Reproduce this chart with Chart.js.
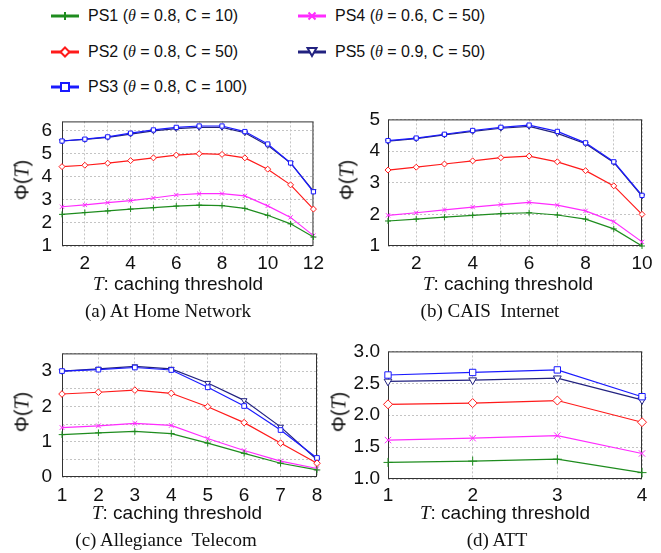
<!DOCTYPE html>
<html>
<head>
<meta charset="utf-8">
<script src="https://cdn.jsdelivr.net/npm/chart.js@4.4.1/dist/chart.umd.min.js"></script>
<style>
  body { margin: 0; background: #fff; }
  #wrap { position: relative; width: 661px; height: 553px; overflow: hidden;
          font-family: "Liberation Sans", Arial, sans-serif; color: #111; }
  canvas { position: absolute; }
  .txt { position: absolute; white-space: nowrap; transform: translate(-50%, -50%); }
  .xt { font-size: 19px; }
  .yt { font-size: 20px; transform: translate(-50%, -50%) rotate(-90deg); }
  .cap { font-family: "Liberation Serif", "Times New Roman", serif; font-size: 19px; }
  i { font-family: "Liberation Serif", "Times New Roman", serif; }
  .leg { position: absolute; font-size: 16px; display: flex; align-items: center;
         white-space: nowrap; transform: translateY(-50%); }
  .leg svg { margin-right: 9px; }
</style>
</head>
<body>
<div id="wrap"></div>
<script>
// series (same five in every panel)
const seriesNames = [
  'PS1 (θ = 0.8, C = 10)',
  'PS2 (θ = 0.8, C = 50)',
  'PS3 (θ = 0.8, C = 100)',
  'PS4 (θ = 0.6, C = 50)',
  'PS5 (θ = 0.9, C = 50)',
];

// (a) At Home Network
const homeT = [1, 2, 3, 4, 5, 6, 7, 8, 9, 10, 11, 12];
const homePS1 = [2.37, 2.45, 2.52, 2.60, 2.66, 2.73, 2.77, 2.75, 2.63, 2.33, 1.96, 1.39];
const homePS2 = [4.44, 4.50, 4.59, 4.70, 4.82, 4.94, 5.00, 4.97, 4.82, 4.33, 3.65, 2.60];
const homePS3 = [5.55, 5.63, 5.73, 5.89, 6.03, 6.14, 6.20, 6.20, 5.96, 5.42, 4.60, 3.35];
const homePS4 = [2.70, 2.78, 2.88, 2.97, 3.08, 3.21, 3.27, 3.27, 3.17, 2.74, 2.24, 1.45];
const homePS5 = [5.55, 5.62, 5.71, 5.85, 5.99, 6.09, 6.14, 6.14, 5.91, 5.36, 4.60, 3.38];

// (b) CAIS Internet
const caisT = [1, 2, 3, 4, 5, 6, 7, 8, 9, 10];
const caisPS1 = [1.79, 1.85, 1.91, 1.97, 2.02, 2.05, 1.98, 1.85, 1.54, 1.00];
const caisPS2 = [3.40, 3.49, 3.59, 3.69, 3.79, 3.84, 3.66, 3.38, 2.90, 2.00];
const caisPS3 = [4.33, 4.41, 4.53, 4.65, 4.75, 4.82, 4.62, 4.26, 3.66, 2.60];
const caisPS4 = [1.97, 2.05, 2.14, 2.23, 2.31, 2.38, 2.29, 2.11, 1.77, 1.13];
const caisPS5 = [4.31, 4.39, 4.51, 4.62, 4.72, 4.78, 4.56, 4.23, 3.64, 2.58];

// (c) Allegiance Telecom
const allegT = [1, 2, 3, 4, 5, 6, 7, 8];
const allegPS1 = [1.20, 1.25, 1.29, 1.23, 0.96, 0.67, 0.39, 0.20];
const allegPS2 = [2.35, 2.40, 2.46, 2.37, 1.99, 1.54, 0.96, 0.39];
const allegPS3 = [3.00, 3.04, 3.10, 3.03, 2.54, 2.01, 1.33, 0.54];
const allegPS4 = [1.40, 1.45, 1.52, 1.46, 1.09, 0.75, 0.45, 0.24];
const allegPS5 = [3.00, 3.06, 3.13, 3.06, 2.66, 2.17, 1.42, 0.49];

// (d) ATT
const attT = [1, 2, 3, 4];
const attPS1 = [1.26, 1.28, 1.31, 1.10];
const attPS2 = [2.17, 2.19, 2.23, 1.89];
const attPS3 = [2.63, 2.67, 2.71, 2.29];
const attPS4 = [1.61, 1.64, 1.68, 1.40];
const attPS5 = [2.53, 2.55, 2.58, 2.24];

// styles
const colors = ['#1e8c1e', '#ff1a1a', '#1a1aff', '#ff2cff', '#222280'];
const markers = ['cross', 'rectRot', 'rect', 'crossRot', 'triangle'];
const rotations = [0, 0, 0, 0, 180];

Chart.defaults.font.family = '"Liberation Sans", Arial, sans-serif';
Chart.defaults.font.size = 19;
Chart.defaults.color = '#111';

const wrap = document.getElementById('wrap');

function addText(cls, html, x, y) {
  const d = document.createElement('div');
  d.className = 'txt ' + cls;
  d.innerHTML = html;
  d.style.left = x + 'px';
  d.style.top = y + 'px';
  wrap.appendChild(d);
}

// legend (html, markers drawn as small svg)
const markerSvg = [
  '<path d="M10 7H18M14 3V11" stroke-width="2"/>',
  '<polygon points="14,2.5 18.5,7 14,11.5 9.5,7" fill="#fff" stroke-width="2"/>',
  '<rect x="10" y="3" width="8" height="8" fill="#fff" stroke-width="2"/>',
  '<path d="M10.5 3.5L17.5 10.5M17.5 3.5L10.5 10.5" stroke-width="2"/>',
  '<polygon points="9.5,3 18.5,3 14,11" fill="#fff" stroke-width="2"/>',
];
const legPos = [[51, 16], [51, 52], [51, 87], [298, 16], [298, 52]];
seriesNames.forEach((name, i) => {
  const d = document.createElement('div');
  d.className = 'leg';
  d.style.left = legPos[i][0] + 'px';
  d.style.top = legPos[i][1] + 'px';
  d.innerHTML = '<svg width="28" height="14" stroke="' + colors[i] + '">' +
    '<line x1="0" y1="7" x2="28" y2="7" stroke-width="3"/>' + markerSvg[i] + '</svg>' +
    '<span>' + name.replace('θ', '<i>θ</i>') + '</span>';
  wrap.appendChild(d);
});

const framePlugin = {
  id: 'frame',
  beforeDatasetsDraw(chart) {
    const { ctx, chartArea: a } = chart;
    ctx.save();
    ctx.strokeStyle = '#333';
    ctx.lineWidth = 1;
    ctx.strokeRect(a.left + 0.5, a.top + 0.5, a.right - a.left - 1, a.bottom - a.top - 1);
    ctx.restore();
  },
};

const panels = [
  { T: homeT, ys: [homePS1, homePS2, homePS3, homePS4, homePS5],
    ymin: 1, ymax: 6.4, ystep: 1, yfmt: v => v, xfmt: v => (v % 2 === 0 ? v : ''),
    box: [0, 100, 330, 180], plot: [62, 114, 316, 246], xpad: 6, ypad: 10, r: 3,
    caption: '(a) At Home Network', xt: [178, 284], cap: [168, 311], yt: [22, 180] },
  { T: caisT, ys: [caisPS1, caisPS2, caisPS3, caisPS4, caisPS5],
    ymin: 1, ymax: 5, ystep: 1, yfmt: v => v, xfmt: v => (v % 2 === 0 ? v : ''),
    box: [330, 100, 331, 180], plot: [388, 114, 642, 246], xpad: 6, ypad: 8, r: 3,
    caption: '(b) CAIS&nbsp; Internet', xt: [508, 284], cap: [490, 311], yt: [347, 180] },
  { T: allegT, ys: [allegPS1, allegPS2, allegPS3, allegPS4, allegPS5],
    ymin: 0, ymax: 3.5, ystep: 0.5, yfmt: v => (Number.isInteger(v) ? v : ''), xfmt: v => v,
    box: [0, 332, 330, 180], plot: [62, 346, 317, 477], xpad: 7, ypad: 10, r: 3.3,
    caption: '(c) Allegiance&nbsp; Telecom', xt: [177, 513], cap: [166, 540], yt: [22, 412] },
  { T: attT, ys: [attPS1, attPS2, attPS3, attPS4, attPS5],
    ymin: 1, ymax: 3, ystep: 0.5, yfmt: v => v.toFixed(1), xfmt: v => v,
    box: [330, 332, 331, 180], plot: [388, 346, 642, 479], xpad: 5, ypad: 8, r: 4.5,
    caption: '(d) ATT', xt: [505, 513], cap: [497, 540], yt: [339, 412] },
];

panels.forEach((p) => {
  const [L, Tp, W, H] = p.box;
  const [pl, pt, pr, pb] = p.plot;
  const cv = document.createElement('canvas');
  cv.width = W;
  cv.height = H;
  cv.style.left = L + 'px';
  cv.style.top = Tp + 'px';
  wrap.appendChild(cv);

  const datasets = p.ys.map((vals, i) => ({
    label: seriesNames[i],
    data: p.T.map((t, k) => ({ x: t, y: vals[k] })),
    borderColor: colors[i],
    borderWidth: 1.2,
    pointStyle: markers[i],
    pointRotation: rotations[i],
    pointRadius: p.r,
    pointBorderWidth: 1,
    pointBorderColor: colors[i],
    pointBackgroundColor: '#fff',
    tension: 0,
    clip: false,
  }));

  new Chart(cv, {
    type: 'line',
    data: { datasets },
    options: {
      responsive: false,
      animation: false,
      devicePixelRatio: 1,
      layout: { padding: { top: pt - Tp, right: L + W - pr, left: 0, bottom: 0 } },
      plugins: { legend: { display: false }, tooltip: { enabled: false } },
      scales: {
        x: {
          type: 'linear',
          min: p.T[0],
          max: p.T[p.T.length - 1],
          afterFit: s => { s.height = Tp + H - pb; },
          ticks: { stepSize: 1, callback: p.xfmt, autoSkip: false, maxRotation: 0, padding: p.xpad },
          grid: { color: '#c4c4c4', drawTicks: false },
          border: { display: false, dash: [2, 2] },
        },
        y: {
          min: p.ymin,
          max: p.ymax,
          afterFit: s => { s.width = pl - L; },
          ticks: { stepSize: p.ystep, includeBounds: false, autoSkip: false, callback: p.yfmt, padding: p.ypad },
          grid: { color: '#c4c4c4', drawTicks: false },
          border: { display: false, dash: [2, 2] },
        },
      },
    },
    plugins: [framePlugin],
  });

  addText('xt', '<i>T</i>: caching threshold', p.xt[0], p.xt[1]);
  addText('cap', p.caption, p.cap[0], p.cap[1]);
  addText('yt', 'Φ(<i>T</i>)', p.yt[0], p.yt[1]);
});
</script>
</body>
</html>
